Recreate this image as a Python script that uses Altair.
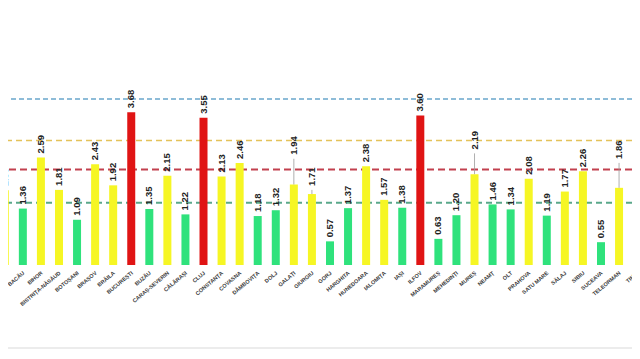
import altair as alt
import pandas as pd

counties = ["ARGEȘ", "BACĂU", "BIHOR", "BISTRIȚA-NĂSĂUD", "BOTOȘANI", "BRAȘOV", "BRĂILA",
            "BUCUREȘTI", "BUZĂU", "CARAȘ-SEVERIN", "CĂLĂRAȘI", "CLUJ", "CONSTANȚA", "COVASNA",
            "DÂMBOVIȚA", "DOLJ", "GALAȚI", "GIURGIU", "GORJ", "HARGHITA", "HUNEDOARA",
            "IALOMIȚA", "IAȘI", "ILFOV", "MARAMUREȘ", "MEHEDINȚI", "MUREȘ", "NEAMȚ", "OLT",
            "PRAHOVA", "SATU MARE", "SĂLAJ", "SIBIU", "SUCEAVA", "TELEORMAN", "TIMIȘ"]
values = [1.80, 1.36, 2.59, 1.81, 1.09, 2.43, 1.92,
          3.68, 1.35, 2.15, 1.22, 3.55, 2.13, 2.46,
          1.18, 1.32, 1.94, 1.71, 0.57, 1.37, 2.38,
          1.57, 1.38, 3.60, 0.63, 1.20, 2.19, 1.46, 1.34,
          2.08, 1.19, 1.77, 2.26, 0.55, 1.86, 2.30]

threshold_values = [4.0, 3.0, 2.3, 1.5]
threshold_colors = ["#6aa6cc", "#e4c25a", "#c2404e", "#5aa88a"]
threshold_widths = [1.6, 1.6, 2.0, 1.8]
threshold_dashes = [[5, 3], [6, 4], [7, 4], [6, 4]]

# label lift (data units) for labels drawn with a leader line
label_lift = {"GALAȚI": 0.62, "MUREȘ": 0.5, "TELEORMAN": 0.6, "GIURGIU": 0.1}


def level(v):
    if v > 3.0:
        return "red"
    if v >= 1.5:
        return "yellow"
    return "green"


df = pd.DataFrame({
    "idx": list(range(len(counties))),
    "county": counties,
    "value": values,
})
df["level"] = df["value"].apply(level)
df["label"] = df["value"].map(lambda v: f"{v:.2f}")
df["label_y"] = [v + label_lift.get(c, 0.0) for c, v in zip(counties, values)]
df["zero"] = 0.0

x_scale = alt.Scale(domain=[0.455, 34.44], nice=False, zero=False)
y_scale = alt.Scale(domain=[-2.072, 6.193], nice=False, zero=False)

x_enc = alt.X("idx:Q", scale=x_scale, axis=None)

bars = alt.Chart(df).mark_bar(size=8, clip=True).encode(
    x=x_enc,
    y=alt.Y("value:Q", scale=y_scale, axis=None),
    y2=alt.Y2("zero:Q"),
    color=alt.Color("level:N", legend=None,
                    scale=alt.Scale(domain=["green", "yellow", "red"],
                                    range=["#2fe27c", "#f6f624", "#e01414"])),
)

leaders = alt.Chart(df[df["county"].isin(list(label_lift.keys()))]).mark_rule(
    color="#9a9a9a", strokeWidth=0.8, clip=True
).encode(
    x=x_enc,
    y=alt.Y("value:Q", scale=y_scale, axis=None),
    y2=alt.Y2("label_y:Q"),
)

value_labels = alt.Chart(df).mark_text(
    angle=270, align="left", baseline="middle", dx=4,
    font="Liberation Sans", fontSize=9.5, fontWeight="bold", color="#222222", clip=True
).encode(
    x=x_enc,
    y=alt.Y("label_y:Q", scale=y_scale, axis=None),
    text="label:N",
)

county_labels = alt.Chart(df).mark_text(
    angle=320, align="right", baseline="middle", dx=-4, dy=6,
    font="Liberation Sans", fontSize=5.5, fontWeight="bold", color="#3a3a3a", clip=True
).encode(
    x=x_enc,
    y=alt.Y("zero:Q", scale=y_scale, axis=None),
    text="county:N",
)

dash_layers = []
for tv, tc, tw, td in zip(threshold_values, threshold_colors, threshold_widths, threshold_dashes):
    dash_layers.append(
        alt.Chart(pd.DataFrame({"y": [tv]})).mark_rule(
            color=tc, strokeWidth=tw, strokeDash=td
        ).encode(y=alt.Y("y:Q", scale=y_scale, axis=None))
    )

frame_line = alt.Chart(pd.DataFrame({"y": [-2.0]})).mark_rule(
    color="#ececec", strokeWidth=2
).encode(y=alt.Y("y:Q", scale=y_scale, axis=None))

chart = alt.layer(*dash_layers, bars, leaders, value_labels, county_labels, frame_line).properties(
    width=624, height=343, padding=0, autosize=alt.AutoSizeParams(type="none")
).configure_view(stroke="transparent")

chart.save("out.html", embed_options={"renderer": "svg", "actions": False})
